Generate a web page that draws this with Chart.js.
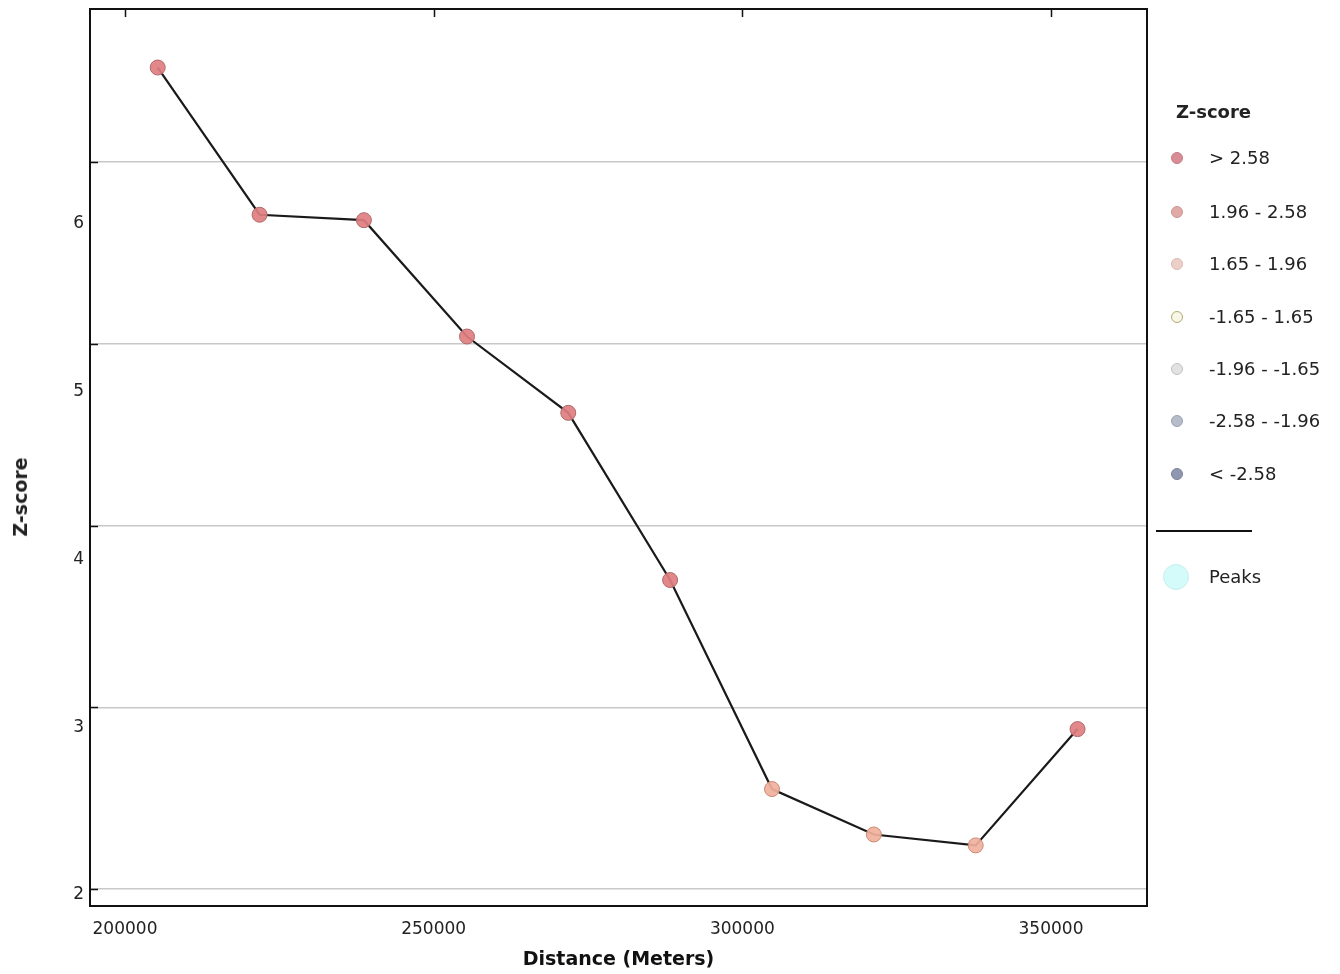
<!DOCTYPE html>
<html>
<head>
<meta charset="utf-8">
<script src="https://cdn.jsdelivr.net/npm/chart.js@4/dist/chart.umd.min.js"></script>
<style>
  body { margin: 0; background: #fff; }
  #wrap { position: relative; width: 1340px; height: 974px; font-family: "DejaVu Sans", sans-serif; color: #222; }
  #zChart { position: absolute; left: 0; top: 0; }
  .yTitle { position: absolute; left: 20px; top: 497px; transform: translate(-50%, -50%) rotate(-90deg); font-weight: bold; font-size: 19px; white-space: nowrap; }
  .legend { position: absolute; left: 1156px; top: 98px; font-size: 18px; }
  .legend .head { position: absolute; left: 20px; top: 3px; font-weight: bold; font-size: 18px; white-space: nowrap; }
  .legend .item { position: absolute; left: 0; white-space: nowrap; }
  .legend .dot { position: absolute; left: 15px; width: 10px; height: 10px; border-radius: 50%; border: 1px solid; }
  .legend .txt { position: absolute; left: 53px; top: -11px; }
  .legend .sep { position: absolute; left: 0; top: 432px; width: 96px; height: 2px; background: #111; }
</style>
</head>
<body>
<div id="wrap">
  <canvas id="zChart" width="1340" height="974"></canvas>
  <div class="yTitle">Z-score</div>
  <div class="legend" id="legend"></div>
</div>
<script>
// Distance along the profile (m) and the Z-score at each point
const distances = [205300, 221800, 238700, 255400, 271800, 288300, 304800, 321300, 337800, 354300];
const zScores = [6.52, 5.71, 5.68, 5.04, 4.62, 3.70, 2.55, 2.30, 2.24, 2.88];

const xTicks = [200000, 250000, 300000, 350000];
const yGridTicks = [2, 3, 4, 5, 6];
const yLabelTicks = [2, 3, 4, 5, 6];

const legendLabels = ['> 2.58', '1.96 - 2.58', '1.65 - 1.96', '-1.65 - 1.65', '-1.96 - -1.65', '-2.58 - -1.96', '< -2.58'];
const legendFill = ['#d98c95', '#e2aaa6', '#ecd0c8', '#f8f6e6', '#e2e2e2', '#b7bccb', '#8f98b1'];
const legendBorder = ['#c27a82', '#cc948e', '#d8b8ae', '#b0aa70', '#c2c2c2', '#9aa0b2', '#7a8299'];

function zFill(z) {
    if (z > 2.58) return 'rgba(224,126,128,0.92)';
    if (z > 1.96) return 'rgba(240,176,156,0.92)';
    return 'rgba(240,210,200,0.92)';
}
function zBorder(z) {
    if (z > 2.58) return '#b0686a';
    if (z > 1.96) return '#c88a74';
    return '#c8a898';
}

// legend on the right
const legendEl = document.getElementById('legend');
let html = '<div class="head">Z-score</div>';
const legendRows = [60, 114, 166, 219, 271, 323, 376];
legendLabels.forEach((lbl, i) => {
    html += `<div class="item" style="top:${legendRows[i]}px">` +
        `<div class="dot" style="top:-6px;background:${legendFill[i]};border-color:${legendBorder[i]}"></div>` +
        `<div class="txt">${lbl}</div></div>`;
});
html += '<div class="sep"></div>';
html += '<div class="item" style="top:479px"><div class="dot" style="left:7px;top:-13px;width:24px;height:24px;background:#d4fafa;border-color:#c4eef0"></div><div class="txt">Peaks</div></div>';
legendEl.innerHTML = html;

const noPad = (s) => { s.paddingTop = 0; s.paddingBottom = 0; s.paddingLeft = 0; s.paddingRight = 0; };

// plot frame plus the small inward tick marks
const framePlugin = {
    id: 'frame',
    afterDraw(chart) {
        const {ctx, chartArea: a} = chart;
        const yGrid = chart.scales.y;
        const x = chart.scales.x;
        ctx.save();
        ctx.strokeStyle = '#111';
        ctx.lineWidth = 2;
        ctx.strokeRect(a.left, a.top, a.right - a.left, a.bottom - a.top);
        ctx.lineWidth = 1.5;
        ctx.beginPath();
        yGridTicks.forEach(v => {
            const py = Math.round(yGrid.getPixelForValue(v)) + 0.5;
            ctx.moveTo(a.left, py);
            ctx.lineTo(a.left + 8, py);
        });
        xTicks.forEach(v => {
            const px = Math.round(x.getPixelForValue(v)) + 0.5;
            ctx.moveTo(px, a.top);
            ctx.lineTo(px, a.top + 8);
        });
        ctx.stroke();
        ctx.restore();
    }
};

const zChart = new Chart(document.getElementById('zChart'), {
    type: 'line',
    data: {
        datasets: [{
            label: 'Z-score',
            data: distances.map((d, i) => ({x: d, y: zScores[i]})),
            yAxisID: 'y',
            borderColor: '#1a1a1a',
            borderWidth: 2.2,
            tension: 0,
            pointRadius: 7.5,
            pointBorderWidth: 1,
            pointBackgroundColor: zScores.map(zFill),
            pointBorderColor: zScores.map(zBorder),
        }]
    },
    options: {
        responsive: false,
        animation: false,
        layout: {
            padding: {top: 9, right: 193, left: 0, bottom: 0}
        },
        scales: {
            x: {
                type: 'linear',
                min: 194330,
                max: 365550,
                afterBuildTicks: (s) => { s.ticks = xTicks.map(v => ({value: v})); },
                afterFit: (s) => { s.height = 68; noPad(s); },
                grid: {display: false, drawTicks: false},
                border: {display: false},
                ticks: {
                    padding: 13,
                    color: '#222',
                    font: {family: 'DejaVu Sans', size: 17},
                    callback: (v) => String(v)
                },
                title: {
                    display: true,
                    text: 'Distance (Meters)',
                    color: '#111',
                    font: {family: 'DejaVu Sans', size: 19, weight: 'bold'},
                    padding: {top: 0, bottom: 3}
                }
            },
            yLabels: {
                type: 'linear',
                position: 'left',
                min: 1.934,
                max: 7.282,
                afterBuildTicks: (s) => { s.ticks = yLabelTicks.map(v => ({value: v})); },
                afterFit: (s) => { s.width = 90; noPad(s); },
                grid: {display: false, drawTicks: false},
                border: {display: false},
                ticks: {
                    padding: 6,
                    color: '#222',
                    font: {family: 'DejaVu Sans', size: 17}
                }
            },
            y: {
                type: 'linear',
                position: 'right',
                min: 1.9065,
                max: 6.842,
                afterBuildTicks: (s) => { s.ticks = yGridTicks.map(v => ({value: v})); },
                afterFit: (s) => { s.width = 0; noPad(s); },
                grid: {color: '#c8c8c8', lineWidth: 1.5, drawTicks: false},
                border: {display: false},
                ticks: {display: false}
            }
        },
        plugins: {
            legend: {display: false},
            tooltip: {enabled: false}
        }
    },
    plugins: [framePlugin]
});
</script>
</body>
</html>
